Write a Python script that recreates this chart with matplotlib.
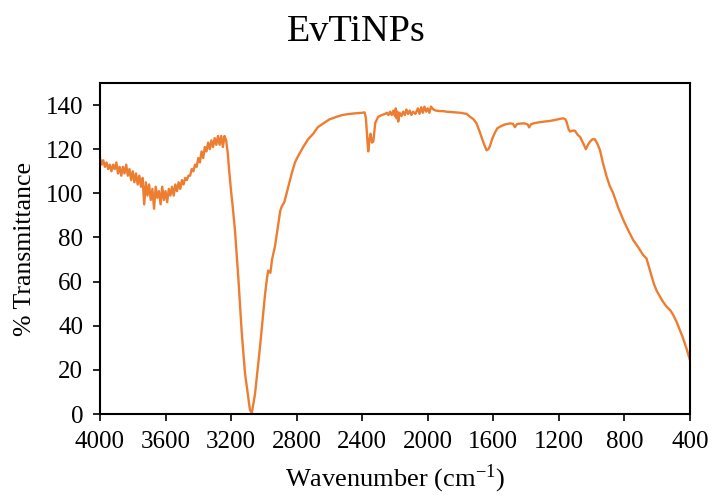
#!/usr/bin/env python3
"""FTIR spectrum of EvTiNPs (% transmittance vs wavenumber)."""
import matplotlib
matplotlib.use("Agg")
import matplotlib.pyplot as plt

plt.rcParams["font.family"] = ["Liberation Serif", "DejaVu Serif"]
plt.rcParams["mathtext.fontset"] = "stix"

# Values (wavenumber in cm-1, % transmittance)
wavenumber = [
    4000, 3990, 3980, 3970, 3960, 3950, 3940, 3930, 3920, 3910,
    3900, 3890, 3880, 3870, 3860, 3850, 3840, 3830, 3820, 3810,
    3800, 3790, 3780, 3770, 3760, 3750, 3740, 3730, 3720, 3710,
    3700, 3690, 3680, 3670, 3660, 3650, 3640, 3630, 3620, 3610,
    3600, 3590, 3580, 3570, 3560, 3550, 3540, 3530, 3520, 3510,
    3500, 3490, 3480, 3470, 3460, 3450, 3440, 3430, 3420, 3410,
    3400, 3390, 3380, 3370, 3360, 3350, 3340, 3330, 3320, 3310,
    3300, 3290, 3280, 3270, 3260, 3250, 3240, 3230, 3220, 3210,
    3200, 3190, 3176, 3156, 3135, 3115, 3085, 3074, 3054, 3024,
    2993, 2980, 2973, 2960, 2950, 2932, 2912, 2900, 2891, 2875,
    2861, 2830, 2810, 2790, 2760, 2730, 2699, 2670, 2637, 2600,
    2556, 2520, 2495, 2450, 2400, 2385, 2377, 2370, 2363, 2356,
    2349, 2340, 2332, 2320, 2302, 2280, 2260, 2250, 2240, 2230,
    2220, 2210, 2200, 2195, 2190, 2185, 2180, 2172, 2160, 2150,
    2140, 2130, 2120, 2110, 2100, 2089, 2075, 2060, 2050, 2040,
    2030, 2020, 2010, 2000, 1990, 1980, 1966, 1950, 1930, 1900,
    1885, 1850, 1800, 1763, 1742, 1720, 1702, 1681, 1660, 1641,
    1630, 1620, 1605, 1590, 1575, 1559, 1530, 1498, 1480, 1468,
    1455, 1437, 1410, 1390, 1381, 1370, 1356, 1320, 1290, 1254,
    1220, 1190, 1173, 1160, 1153, 1140, 1132, 1117, 1102, 1085,
    1071, 1050, 1035, 1022, 1010, 995, 980, 965, 949, 930,
    908, 890, 868, 840, 807, 775, 746, 715, 685, 665,
    640, 620, 604, 570, 542, 520, 502, 480, 461, 445,
    431, 420, 410, 404, 400,
]
transmittance = [
    116, 113, 115, 112, 114, 111, 113, 110, 113, 111,
    114, 109, 112, 108, 112, 109, 113, 108, 111, 106,
    110, 105, 109, 104, 108, 103, 107, 95, 105, 99,
    104, 97, 102, 93, 103, 98, 101, 95, 103, 97,
    101, 96, 102, 99, 103, 99, 104, 101, 105, 102,
    106, 104, 107, 106, 108, 108, 111, 110, 113, 112,
    116, 114, 119, 116, 121, 119, 123, 120, 124, 121,
    125, 122, 126, 122, 126, 121, 126, 124, 118, 109,
    101, 94, 83, 62, 37, 18.5, 2, 0.3, 9, 30,
    54, 62, 65, 64, 70, 76, 86, 92, 94, 96,
    100, 109, 114, 117, 121, 124.5, 127, 130, 131.7, 133.5,
    134.7, 135.5, 135.8, 136.2, 136.5, 136.7, 134, 126, 119, 124,
    127, 123, 123.5, 132, 134.7, 135.5, 136, 136.5, 135.5, 137,
    135.5, 137.5, 135, 138.5, 134, 137, 132.5, 136.5, 135, 137,
    135.5, 138, 136, 137.5, 135.5, 137, 136, 138.5, 136, 139,
    136.5, 139.3, 137, 138.5, 136.5, 139.3, 138, 137.5, 137.3, 137.2,
    137, 136.8, 136.5, 136, 134.7, 133.5, 131.7, 127.5, 123, 119.5,
    120, 121.5, 125, 127.5, 129.5, 130.2, 131.2, 131.7, 131.5, 130,
    131.4, 131.6, 131.7, 131.2, 129.9, 131.3, 131.7, 132.2, 132.5, 132.8,
    133.3, 133.8, 134, 133.5, 132.5, 129, 128, 128.4, 128.4, 126.5,
    125.6, 122.5, 120, 122, 123.4, 124.5, 124.5, 122.5, 119.6, 113.5,
    107.5, 103.5, 100, 94, 88, 83, 78.8, 75.5, 72, 70.5,
    64, 59, 56, 51.5, 48.6, 47, 44.9, 41.5, 38, 35,
    32, 29.5, 27, 25.5, 24.5,
]

fig = plt.figure(figsize=(7.12, 4.97), dpi=100)
ax = fig.add_axes([0.1404, 0.167, 0.8286, 0.666])

ax.plot(wavenumber, transmittance, color="#ED7D31", lw=1.7)

ax.set_xlim(4000, 400)
ax.set_ylim(0, 150)
ax.set_xticks(range(4000, 399, -400))
ax.set_yticks(range(0, 141, 20))
ax.tick_params(direction="out", length=5, width=1.2, labelsize=18, pad=7, colors="black")
for side in ax.spines.values():
    side.set_linewidth(1.5)

# title is centred on the figure, not the axes
fig.text(0.5, 0.9175, "EvTiNPs", fontsize=27.5, ha="center", va="baseline")
ax.set_xlabel(r"Wavenumber (cm$^{\mathregular{-1}}$)", fontsize=19, labelpad=7)
ax.set_ylabel("% Transmittance", fontsize=18.5, labelpad=7)

fig.savefig("out.png", dpi=100)
